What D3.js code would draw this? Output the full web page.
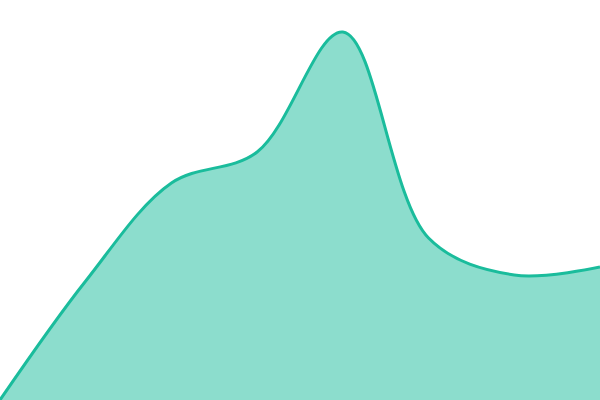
<!DOCTYPE html>
<html>
<head>
<meta charset="utf-8">
<script src="https://cdn.jsdelivr.net/npm/d3@7"></script>
<style>
  html, body { margin: 0; padding: 0; background: #fff; }
  svg { display: block; }
</style>
</head>
<body>
<svg id="chart" width="600" height="400"></svg>
<script>
// eight evenly spaced samples
const steps = [0, 1, 2, 3, 4, 5, 6, 7];
const values = [0, 119, 217, 248, 368, 162, 125, 133];

const data = steps.map((s, i) => ({ x: s, y: values[i] }));

const width = 600;
const height = 400;

const svg = d3.select("#chart");

const xScale = d3.scaleLinear()
    .domain([0, 7])
    .range([0, width]);

const yScale = d3.scaleLinear()
    .domain([0, 400])
    .range([height, 0]);

const curve = d3.curveCatmullRom.alpha(0.5);

const area = d3.area()
    .x(d => xScale(d.x))
    .y0(height)
    .y1(d => yScale(d.y))
    .curve(curve);

const line = d3.line()
    .x(d => xScale(d.x))
    .y(d => yScale(d.y))
    .curve(curve);

// filled area
svg.append("path")
    .datum(data)
    .attr("fill", "#1abc9c")
    .attr("fill-opacity", 0.5)
    .attr("d", area);

// outline on top
svg.append("path")
    .datum(data)
    .attr("fill", "none")
    .attr("stroke", "#1abc9c")
    .attr("stroke-width", 3)
    .attr("d", line);
</script>
</body>
</html>
